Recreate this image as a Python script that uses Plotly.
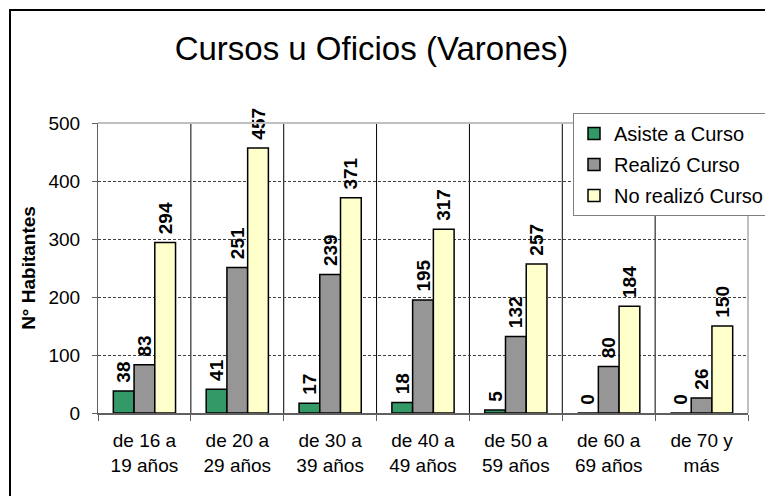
import plotly.graph_objects as go

categories = ["de 16 a<br>19 años", "de 20 a<br>29 años", "de 30 a<br>39 años",
              "de 40 a<br>49 años", "de 50 a<br>59 años", "de 60 a<br>69 años",
              "de 70 y<br>más"]
asiste = [38, 41, 17, 18, 5, 0, 0]
realizo = [83, 251, 239, 195, 132, 80, 26]
no_realizo = [294, 457, 371, 317, 257, 184, 150]
series_names = ["Asiste a Curso", "Realizó Curso", "No realizó Curso"]
series_colors = ["#339966", "#969696", "#FFFFCC"]
y_ticks = [0, 100, 200, 300, 400, 500]

FONT = "Liberation Sans, Arial, sans-serif"
OFF = 8  # page body margin
W, H = 773 - OFF, 496 - OFF
L, T = 98 - OFF, 123 - OFF
R = W - (748 - OFF)
B = H - (413 - OFF)
PW, PH = W - L - R, H - T - B


def px_x(rx):
    return (rx - OFF - L) / PW


def px_y(ry):
    return (H - B - (ry - OFF)) / PH


fig = go.Figure()
for name, vals, col in zip(series_names, [asiste, realizo, no_realizo], series_colors):
    fig.add_trace(go.Bar(
        x=categories, y=vals, name=name, legendgroup=name,
        marker=dict(color=col, line=dict(color="black", width=1.5)),
        text=["\u00a0" + str(v) for v in vals], textposition="outside", textangle=-90,
        constraintext="none",
        textfont=dict(family=FONT, size=19, color="black", weight="bold"),
        cliponaxis=False,
    ))

shapes = []
for i in range(len(categories) - 1):
    shapes.append(dict(type="line", xref="x", yref="y", x0=i + 0.5, x1=i + 0.5,
                       y0=0, y1=500, line=dict(color="black", width=1), layer="below"))
shapes.append(dict(type="line", xref="paper", yref="paper", x0=0, x1=1, y0=1, y1=1,
                   line=dict(color="#c0c0c0", width=2), layer="above"))
shapes.append(dict(type="line", xref="paper", yref="paper", x0=1, x1=1, y0=0, y1=1,
                   line=dict(color="#c0c0c0", width=2), layer="above"))
shapes.append(dict(type="rect", xref="paper", yref="paper",
                   x0=px_x(10), x1=px_x(800), y0=px_y(520), y1=px_y(10),
                   line=dict(color="black", width=2), layer="above"))

fig.update_layout(
    width=W, height=H,
    margin=dict(l=L, r=R, t=T, b=B, pad=0, autoexpand=False),
    paper_bgcolor="white", plot_bgcolor="white",
    barmode="group", bargap=0.33, bargroupgap=0,
    font=dict(family=FONT, size=19, color="black"),
    title=dict(text="Cursos u Oficios (Varones)", x=px_x(371.5), xref="paper",
               xanchor="center", y=1 - (48 - OFF) / H, yref="container", yanchor="middle",
               font=dict(family=FONT, size=33, color="black")),
    showlegend=True,
    legend=dict(x=px_x(769), y=px_y(113), xanchor="right", yanchor="top",
                bgcolor="white", bordercolor="#808080", borderwidth=1,
                font=dict(family=FONT, size=20, color="black"),
                itemwidth=30, tracegroupgap=2),
    shapes=shapes,
    xaxis=dict(type="category", tickson="boundaries", ticks="outside", ticklen=6,
               tickcolor="#606060", showline=True, linecolor="#606060", linewidth=2,
               showgrid=False, ticklabelstandoff=9,
               tickfont=dict(family=FONT, size=19, color="black"),
               fixedrange=True),
    yaxis=dict(range=[0, 500], tickvals=y_ticks, ticks="outside", ticklen=5,
               tickcolor="#606060", showline=True, linecolor="#606060", linewidth=1,
               showgrid=True, gridcolor="#404040", gridwidth=1, griddash="3px,2px",
               zeroline=False, ticklabelstandoff=8,
               tickfont=dict(family=FONT, size=19, color="black"),
               title=dict(text="<b>N° Habitantes</b>", standoff=7,
                          font=dict(family=FONT, size=19, color="black")),
               fixedrange=True),
)

fig.write_html("out.html")
